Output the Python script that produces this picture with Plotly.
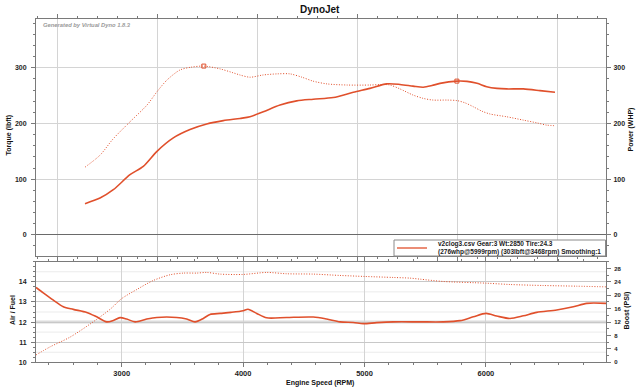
import plotly.graph_objects as go

# ---------------- data ----------------
torque_rpm = [2280, 2430, 2560, 2730, 2900, 3000, 3100, 3230, 3340, 3468, 3630, 3760, 3830, 3930,
              4060, 4200, 4330, 4450, 4560, 4700, 4900, 5130, 5260, 5330, 5430, 5560, 5663, 5760,
              5900, 6000, 6080, 6163, 6250, 6330, 6497, 6663, 6800, 6897, 6980]
torque = [121.5, 143, 172, 203, 233, 257, 278, 296, 301, 303, 298, 291, 287, 283,
          287, 289, 289, 283, 276, 271, 269, 269, 270, 269, 262, 251, 245, 242,
          242, 241, 237, 230, 222, 217, 212, 206, 201, 197, 196]

power_rpm = [2280, 2430, 2563, 2730, 2863, 3000, 3163, 3330, 3497, 3663, 3830, 3930, 4063, 4230,
             4397, 4563, 4763, 4963, 5130, 5297, 5430, 5560, 5663, 5750, 5830, 5999, 6100, 6200,
             6297, 6400, 6497, 6663, 6830, 6980]
power = [56, 66, 81, 108, 123, 150, 174, 189, 199, 205, 209, 212, 221, 233,
         240.5, 243.5, 246.5, 256, 263, 271, 270, 267, 265, 268, 272, 276, 275.5, 272,
         266, 263, 262, 262, 259, 256]

peak_rpm = [3468, 5999]
peak_torque = [303]
peak_power = [276]

af_rpm = [2294, 2354, 2437, 2519, 2601, 2712, 2794, 2876, 2931, 2986, 3041, 3110, 3206, 3288,
          3453, 3535, 3604, 3672, 3727, 3810, 3900, 4000, 4040, 4112, 4194, 4359, 4578, 4688,
          4798, 4908, 4990, 5100, 5237, 5457, 5649, 5787, 5896, 6001, 6089, 6198, 6308, 6418,
          6583, 6720, 6830, 6989]
air_fuel = [13.72, 13.45, 13.09, 12.76, 12.63, 12.48, 12.26, 12.01, 12.08, 12.22, 12.15, 12.01, 12.15, 12.23,
            12.23, 12.15, 12.01, 12.18, 12.38, 12.43, 12.48, 12.56, 12.64, 12.43, 12.21, 12.23, 12.25, 12.15,
            12.01, 11.98, 11.92, 11.97, 12.01, 12.01, 12.01, 12.07, 12.26, 12.43, 12.3, 12.18, 12.31, 12.48,
            12.6, 12.76, 12.93, 12.93]

boost_rpm = [2294, 2410, 2574, 2739, 2904, 3000, 3124, 3260, 3398, 3507, 3618, 3700, 3810, 4000,
             4194, 4359, 4578, 4798, 5000, 5237, 5375, 5457, 5649, 6000, 6198, 6473, 6748, 6989]
boost = [2.2, 4.6, 7.5, 11.4, 15.8, 19.0, 21.7, 24.4, 26.1, 26.6, 26.6, 26.8, 26.3, 26.2,
         26.8, 26.4, 26.3, 25.9, 25.6, 25.3, 25.1, 24.8, 24.1, 23.6, 23.2, 22.9, 22.7, 22.5]

legend_line1 = "v2clog3.csv Gear:3 Wt:2850 Tire:24.3"
legend_line2 = "(276whp@5999rpm) (303lbft@3468rpm) Smoothing:1"

# ---------------- styling ----------------
W, H = 640, 391
RED = "#e0502c"
FRAME = "#7a7a7a"
GRID = "#d4d4d4"
FONT = "Liberation Sans"
tickfont = dict(family=FONT, size=7, color="#1e1e1e", weight="bold")
DOT = "1px,1.6px"


def px(x):
    return x / W


def py(y):
    return 1 - y / H


xdom = [px(36), px(606)]
top_dom = [py(256), py(19.3)]
bot_dom = [py(362.3), py(261.7)]

fig = go.Figure()

fig.add_trace(go.Scatter(x=torque_rpm, y=torque, mode="lines", xaxis="x", yaxis="y",
                         line=dict(color=RED, width=1, dash=DOT, shape="spline", smoothing=0.8),
                         showlegend=False, hoverinfo="skip"))
fig.add_trace(go.Scatter(x=power_rpm, y=power, mode="lines", xaxis="x", yaxis="y2",
                         line=dict(color=RED, width=1.6, shape="spline", smoothing=0.8),
                         showlegend=False, hoverinfo="skip"))
fig.add_trace(go.Scatter(x=peak_rpm[:1], y=peak_torque, mode="markers", xaxis="x", yaxis="y",
                         marker=dict(symbol="square-open", size=4, color=RED, line=dict(width=1)),
                         showlegend=False, hoverinfo="skip"))
fig.add_trace(go.Scatter(x=peak_rpm[1:], y=peak_power, mode="markers", xaxis="x", yaxis="y2",
                         marker=dict(symbol="square-open", size=4, color=RED, line=dict(width=1)),
                         showlegend=False, hoverinfo="skip"))
fig.add_trace(go.Scatter(x=af_rpm, y=air_fuel, mode="lines", xaxis="x2", yaxis="y3",
                         line=dict(color=RED, width=1.6, shape="spline", smoothing=0.8),
                         showlegend=False, hoverinfo="skip"))
fig.add_trace(go.Scatter(x=boost_rpm, y=boost, mode="lines", xaxis="x2", yaxis="y4",
                         line=dict(color=RED, width=1, dash=DOT, shape="spline", smoothing=0.8),
                         showlegend=False, hoverinfo="skip"))

common_x = dict(domain=xdom, showline=True, linecolor=FRAME, linewidth=1, mirror="ticks",
                ticks="outside", ticklen=4, tickcolor=FRAME, tick0=0, dtick=1000,
                showgrid=True, gridcolor=GRID, gridwidth=1, zeroline=False, automargin=False,
                minor=dict(dtick=200, ticks="outside", ticklen=2, tickcolor=FRAME, showgrid=False),
                tickfont=dict(tickfont, size=7.5))

fig.update_layout(
    width=W, height=H,
    margin=dict(l=0, r=0, t=0, b=0),
    paper_bgcolor="white", plot_bgcolor="white",
    showlegend=False,
    xaxis=dict(common_x, anchor="y", range=[1790, 7490], showticklabels=False),
    yaxis=dict(domain=top_dom, anchor="x", range=[-38, 387], tick0=0, dtick=100,
               showline=True, linecolor=FRAME, mirror=True, ticks="outside", ticklen=4,
               tickcolor=FRAME, showgrid=True, gridcolor=GRID, zeroline=True,
               zerolinecolor="#6a6a6a", zerolinewidth=1.2, automargin=False,
               minor=dict(dtick=20, ticks="outside", ticklen=2, tickcolor=FRAME, showgrid=False),
               tickfont=tickfont, ticklabelstandoff=3),
    yaxis2=dict(overlaying="y", anchor="x", side="right", range=[-38, 387], tick0=0, dtick=100,
                showline=False, ticks="outside", ticklen=4, tickcolor=FRAME, showgrid=False,
                zeroline=False, automargin=False,
                minor=dict(dtick=20, ticks="outside", ticklen=2, tickcolor=FRAME, showgrid=False),
                tickfont=tickfont, ticklabelstandoff=1),
    xaxis2=dict(common_x, anchor="y3", range=[2294, 6989]),
    yaxis3=dict(domain=bot_dom, anchor="x2", range=[10, 15],
                tickvals=[10, 11, 12, 13, 14],
                showline=True, linecolor=FRAME, mirror=True, ticks="outside", ticklen=4,
                tickcolor=FRAME, showgrid=True, gridcolor="#c8c8c8", zeroline=False,
                automargin=False,
                minor=dict(dtick=0.25, ticks="outside", ticklen=2, tickcolor=FRAME,
                           showgrid=False),
                tickfont=tickfont, ticklabelstandoff=3),
    yaxis4=dict(overlaying="y3", anchor="x2", side="right", range=[0, 30], tick0=0, dtick=4,
                showline=False, ticks="outside", ticklen=4, tickcolor=FRAME, showgrid=False,
                zeroline=False, automargin=False,
                minor=dict(dtick=2, ticks="outside", ticklen=2, tickcolor=FRAME, showgrid=False),
                tickfont=dict(tickfont, size=6), ticklabelstandoff=2),
)

# faint half-unit gridlines and the heavier 12 line in the air/fuel panel
for v in [10.5, 11.5, 12.5, 13.5, 14.5]:
    fig.add_shape(type="line", xref="paper", yref="y3", x0=xdom[0], x1=xdom[1], y0=v, y1=v,
                  line=dict(color="#ebebeb", width=1), layer="below")
fig.add_shape(type="line", xref="paper", yref="y3", x0=xdom[0], x1=xdom[1], y0=12, y1=12,
              line=dict(color="#dcdcdc", width=3), layer="below")


def note(text, x, y, size=7, color="#111", angle=0, xanchor="center"):
    return dict(text=text, x=px(x), y=py(y), xref="paper", yref="paper",
                xanchor=xanchor, yanchor="middle", textangle=angle, showarrow=False,
                font=dict(family=FONT, size=size, color=color, weight="bold"))


ann = [
    note("DynoJet", 320, 9.5, size=10),
    note("<i>Generated by Virtual Dyno 1.8.3</i>", 40.5, 25.5, size=5.8, color="#9a9a9a",
         xanchor="left"),
    note("Torque (lbft)", 8.5, 135, angle=-90),
    note("Power (WHP)", 630.5, 130, angle=-90),
    note("Air / Fuel", 12, 310, angle=-90),
    note("Boost (PSI)", 626.5, 311, angle=-90),
    note("Engine Speed (RPM)", 320, 383),
    note(legend_line1, 436, 244, size=6.5, color="#222", xanchor="left"),
    note(legend_line2, 436, 251.5, size=6.5, color="#222", xanchor="left"),
]
fig.update_layout(annotations=ann)

# legend box
fig.add_shape(type="rect", xref="paper", yref="paper", x0=px(394), x1=px(605.5),
              y0=py(256), y1=py(240), line=dict(color="#8a8a8a", width=1), fillcolor="white",
              layer="above")
fig.add_shape(type="line", xref="paper", yref="paper", x0=px(397), x1=px(427),
              y0=py(248), y1=py(248), line=dict(color=RED, width=1.3), layer="above")

fig.write_html("out.html", config={"displayModeBar": False, "staticPlot": True},
               post_script="document.body.style.margin='0px';"
                           "document.body.style.overflow='hidden';")
